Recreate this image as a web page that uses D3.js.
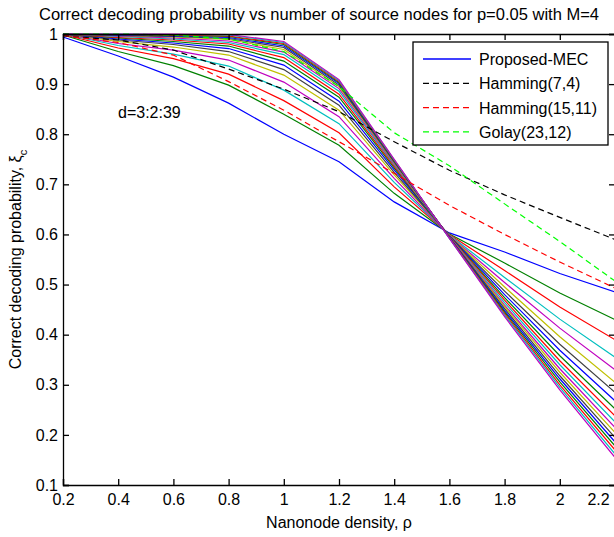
<!DOCTYPE html>
<html>
<head>
<meta charset="utf-8">
<script src="https://cdn.jsdelivr.net/npm/d3@7"></script>
<style>
body { margin: 0; background: #fff; }
text { font-family: "Liberation Sans", Arial, sans-serif; }
</style>
</head>
<body>
<div id="chart"></div>
<script>
// nanonode density values (x)
var rho = [0.2, 0.4, 0.6, 0.8, 1.0, 1.2, 1.4, 1.6, 1.8, 2.0, 2.2];

var xTicks = [0.2, 0.4, 0.6, 0.8, 1, 1.2, 1.4, 1.6, 1.8, 2, 2.2];
var yTicks = [0.1, 0.2, 0.3, 0.4, 0.5, 0.6, 0.7, 0.8, 0.9, 1];

// proposed MEC, one curve per d = 3:2:39
var dValues = [3, 5, 7, 9, 11, 13, 15, 17, 19, 21, 23, 25, 27, 29, 31, 33, 35, 37, 39];
var proposedMEC = [
    [0.994, 0.956, 0.914, 0.862, 0.800, 0.745, 0.665, 0.603, 0.565, 0.522, 0.485],
    [0.998, 0.965, 0.937, 0.898, 0.840, 0.778, 0.682, 0.601, 0.543, 0.483, 0.430],
    [0.999, 0.972, 0.951, 0.920, 0.867, 0.803, 0.695, 0.600, 0.528, 0.455, 0.390],
    [1.000, 0.977, 0.960, 0.936, 0.888, 0.821, 0.704, 0.599, 0.514, 0.431, 0.355],
    [1.000, 0.981, 0.968, 0.948, 0.904, 0.835, 0.712, 0.598, 0.504, 0.413, 0.330],
    [1.000, 0.985, 0.974, 0.958, 0.918, 0.848, 0.719, 0.598, 0.495, 0.396, 0.305],
    [1.000, 0.988, 0.979, 0.965, 0.929, 0.858, 0.724, 0.597, 0.487, 0.381, 0.285],
    [1.000, 0.990, 0.982, 0.971, 0.938, 0.866, 0.729, 0.597, 0.480, 0.369, 0.268],
    [1.000, 0.992, 0.985, 0.976, 0.946, 0.874, 0.733, 0.596, 0.474, 0.358, 0.252],
    [1.000, 0.993, 0.988, 0.980, 0.953, 0.880, 0.736, 0.596, 0.469, 0.348, 0.238],
    [1.000, 0.995, 0.990, 0.983, 0.959, 0.886, 0.739, 0.595, 0.464, 0.340, 0.226],
    [1.000, 0.996, 0.992, 0.986, 0.964, 0.891, 0.741, 0.595, 0.459, 0.332, 0.215],
    [1.000, 0.997, 0.994, 0.989, 0.969, 0.895, 0.743, 0.594, 0.456, 0.325, 0.205],
    [1.000, 0.997, 0.995, 0.991, 0.973, 0.898, 0.745, 0.594, 0.452, 0.318, 0.195],
    [1.000, 0.998, 0.996, 0.993, 0.976, 0.901, 0.746, 0.594, 0.448, 0.312, 0.186],
    [1.000, 0.999, 0.997, 0.995, 0.979, 0.903, 0.747, 0.593, 0.445, 0.306, 0.178],
    [1.000, 0.999, 0.998, 0.996, 0.981, 0.905, 0.748, 0.593, 0.442, 0.300, 0.170],
    [1.000, 1.000, 0.999, 0.998, 0.983, 0.907, 0.749, 0.592, 0.439, 0.295, 0.162],
    [1.000, 1.000, 1.000, 0.999, 0.985, 0.909, 0.750, 0.592, 0.436, 0.290, 0.155]
];

// reference codes
var hamming74 = [0.996, 0.988, 0.968, 0.930, 0.890, 0.845, 0.785, 0.728, 0.679, 0.634, 0.590];
var hamming1511 = [0.997, 0.983, 0.958, 0.905, 0.848, 0.785, 0.722, 0.658, 0.600, 0.545, 0.493];
var golay2312 = [1.000, 1.000, 0.998, 0.990, 0.965, 0.895, 0.803, 0.737, 0.661, 0.586, 0.507];

var legendLabels = ["Proposed-MEC", "Hamming(7,4)", "Hamming(15,11)", "Golay(23,12)"];

// matlab default line color order
var colorOrder = ["#0000ff", "#008000", "#ff0000", "#00bfbf", "#bf00bf", "#bfbf00", "#404040"];

var width = 614, height = 537;
var margin = { top: 34, right: -1, bottom: 52, left: 63 };

var svg = d3.select("#chart")
    .append("svg")
    .attr("width", width)
    .attr("height", height);

var x = d3.scaleLinear()
    .domain([0.2, 2.2])
    .range([margin.left, width - margin.right]);

var y = d3.scaleLinear()
    .domain([0.1, 1])
    .range([height - margin.bottom, margin.top]);

// title
svg.append("text")
    .attr("x", 39)
    .attr("y", 20)
    .attr("textLength", 560)
    .attr("lengthAdjust", "spacingAndGlyphs")
    .style("font-size", "16px")
    .text("Correct decoding probability vs number of source nodes for p=0.05 with M=4");

// curves
var line = d3.line()
    .x(function (d, i) { return x(rho[i]); })
    .y(function (d) { return y(d); });

var plot = svg.append("g");

proposedMEC.forEach(function (vals, i) {
    plot.append("path")
        .datum(vals)
        .attr("d", line)
        .attr("fill", "none")
        .attr("stroke", colorOrder[i % colorOrder.length])
        .attr("stroke-width", 1.2);
});

var dashed = [
    { vals: hamming74, color: "#000000" },
    { vals: hamming1511, color: "#ff0000" },
    { vals: golay2312, color: "#00ff00" }
];
dashed.forEach(function (s) {
    plot.append("path")
        .datum(s.vals)
        .attr("d", line)
        .attr("fill", "none")
        .attr("stroke", s.color)
        .attr("stroke-width", 1.2)
        .attr("stroke-dasharray", "6,4");
});

// axes (ticks point inward like matlab)
var fmt = d3.format("~g");

var xAxis = svg.append("g")
    .attr("transform", "translate(0," + y(0.1) + ")")
    .call(d3.axisBottom(x).tickValues(xTicks).tickSize(-6).tickPadding(9).tickFormat(fmt));
xAxis.selectAll("text").filter(function (d) { return d === 2.2; }).attr("x", -17);

svg.append("g")
    .attr("transform", "translate(0," + y(1) + ")")
    .call(d3.axisTop(x).tickValues(xTicks).tickSize(-6).tickFormat(""));

svg.append("g")
    .attr("transform", "translate(" + x(0.2) + ",0)")
    .call(d3.axisLeft(y).tickValues(yTicks).tickSize(-6).tickPadding(5).tickFormat(fmt));

svg.append("g")
    .attr("transform", "translate(" + x(2.2) + ",0)")
    .call(d3.axisRight(y).tickValues(yTicks).tickSize(-6).tickFormat(""));

svg.selectAll(".domain").attr("stroke", "#000").attr("stroke-width", 1.3);
svg.selectAll(".tick line").attr("stroke", "#000").attr("stroke-width", 1.3);
svg.selectAll(".tick text")
    .attr("fill", "#000")
    .style("font-size", "16px")
    .style("font-family", "'Liberation Sans', Arial, sans-serif");

// axis labels
svg.append("text")
    .attr("x", (x(0.2) + x(2.2)) / 2)
    .attr("y", 528)
    .attr("text-anchor", "middle")
    .style("font-size", "16px")
    .text("Nanonode density, \u03c1");

var yl = svg.append("text")
    .attr("transform", "translate(21," + ((y(0.1) + y(1)) / 2) + ") rotate(-90)")
    .attr("text-anchor", "middle")
    .style("font-size", "16px");
yl.append("tspan").text("Correct decoding probability, \u03be");
yl.append("tspan").attr("baseline-shift", "sub").style("font-size", "11px").text("c");

// annotation
svg.append("text")
    .attr("x", 118)
    .attr("y", 118)
    .style("font-size", "16px")
    .text("d=3:2:39");

// legend
var legend = svg.append("g");
legend.append("rect")
    .attr("x", 413)
    .attr("y", 42)
    .attr("width", 195)
    .attr("height", 103)
    .attr("fill", "#fff")
    .attr("stroke", "#000")
    .attr("stroke-width", 1.3);

var legendStyles = [
    { color: "#0000ff", dash: null },
    { color: "#000000", dash: "6,4" },
    { color: "#ff0000", dash: "6,4" },
    { color: "#00ff00", dash: "6,4" }
];

legendLabels.forEach(function (lab, i) {
    var ly = 59 + i * 24.3;
    legend.append("line")
        .attr("x1", 423).attr("x2", 471)
        .attr("y1", ly).attr("y2", ly)
        .attr("stroke", legendStyles[i].color)
        .attr("stroke-width", 1.3)
        .attr("stroke-dasharray", legendStyles[i].dash);
    legend.append("text")
        .attr("x", 479)
        .attr("y", ly + 6)
        .style("font-size", "16px")
        .text(lab);
});
</script>
</body>
</html>
